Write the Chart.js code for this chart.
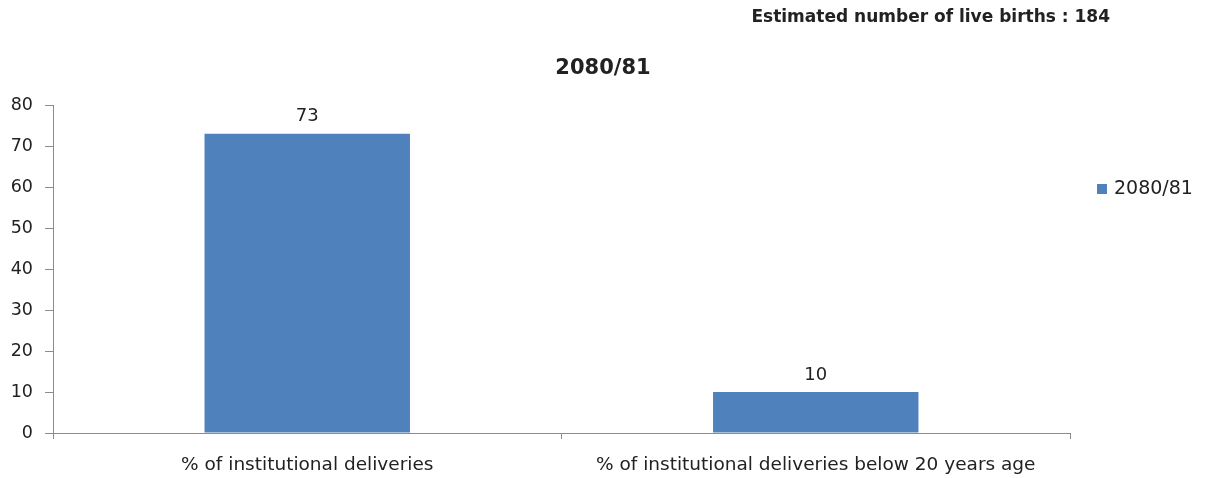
<!DOCTYPE html>
<html>
<head>
<meta charset="utf-8">
<script src="https://cdn.jsdelivr.net/npm/chart.js@4.4.1/dist/chart.umd.min.js"></script>
<style>
  html, body { margin: 0; padding: 0; background: #fff; }
  #wrap { width: 1213px; height: 478px; }
</style>
</head>
<body>
<div id="wrap"><canvas id="grafico"></canvas></div>
<script>
const categorias = ['% of institutional deliveries', '% of institutional deliveries below 20 years age'];
const valores = [73, 10];
const serie = '2080/81';
const topo = 'Estimated number of live births : 184';
const yTicks = [0, 10, 20, 30, 40, 50, 60, 70, 80];

const FONTE = '"DejaVu Sans", "Open Sans", sans-serif';
const COR_BARRA = '#4F81BD';
const COR_EIXO = '#8c8c8c';

// rótulos, título e legenda desenhados por cima do gráfico
const extras = {
  id: 'extras',
  afterDatasetsDraw(chart) {
    const ctx = chart.ctx;
    const meta = chart.getDatasetMeta(0);
    ctx.save();
    ctx.fillStyle = '#222';
    ctx.textAlign = 'center';
    ctx.textBaseline = 'middle';
    ctx.font = '18px ' + FONTE;
    meta.data.forEach((bar, i) => {
      ctx.fillText(String(valores[i]), bar.x, bar.y - 17);
    });

    ctx.font = 'bold 21px ' + FONTE;
    ctx.fillText(serie, 603, 69);

    ctx.textAlign = 'right';
    ctx.font = 'bold 17px ' + FONTE;
    ctx.fillText(topo, 1110, 18);

    // legenda
    ctx.fillStyle = COR_BARRA;
    ctx.fillRect(1097, 184, 10, 10);
    ctx.fillStyle = '#222';
    ctx.textAlign = 'left';
    ctx.font = '19px ' + FONTE;
    ctx.fillText(chart.data.datasets[0].label, 1114, 189);
    ctx.restore();
  }
};

new Chart(document.getElementById('grafico'), {
  type: 'bar',
  data: {
    labels: categorias,
    datasets: [{
      label: serie,
      data: valores,
      backgroundColor: COR_BARRA,
      barPercentage: 0.404,
      categoryPercentage: 1.0
    }]
  },
  options: {
    responsive: true,
    maintainAspectRatio: false,
    animation: false,
    layout: { padding: { top: 105, right: 143, left: 0, bottom: 0 } },
    plugins: {
      legend: { display: false },
      title: { display: false },
      tooltip: { enabled: false }
    },
    scales: {
      x: {
        grid: {
          offset: true,
          drawOnChartArea: false,
          drawTicks: true,
          tickLength: 6,
          color: COR_EIXO
        },
        border: { color: COR_EIXO, width: 1 },
        ticks: {
          color: '#222',
          font: { family: FONTE, size: 18.5 },
          padding: 15,
          maxRotation: 0
        },
        afterFit(scale) { scale.height = 45; }
      },
      y: {
        min: 0,
        max: 80,
        afterBuildTicks(scale) { scale.ticks = yTicks.map(v => ({ value: v })); },
        grid: {
          drawOnChartArea: false,
          drawTicks: true,
          tickLength: 8,
          color: COR_EIXO
        },
        border: { color: COR_EIXO, width: 1 },
        ticks: {
          color: '#222',
          font: { family: FONTE, size: 17.5 },
          padding: 12
        },
        afterFit(scale) { scale.width = 53; }
      }
    }
  },
  plugins: [extras]
});
</script>
</body>
</html>
